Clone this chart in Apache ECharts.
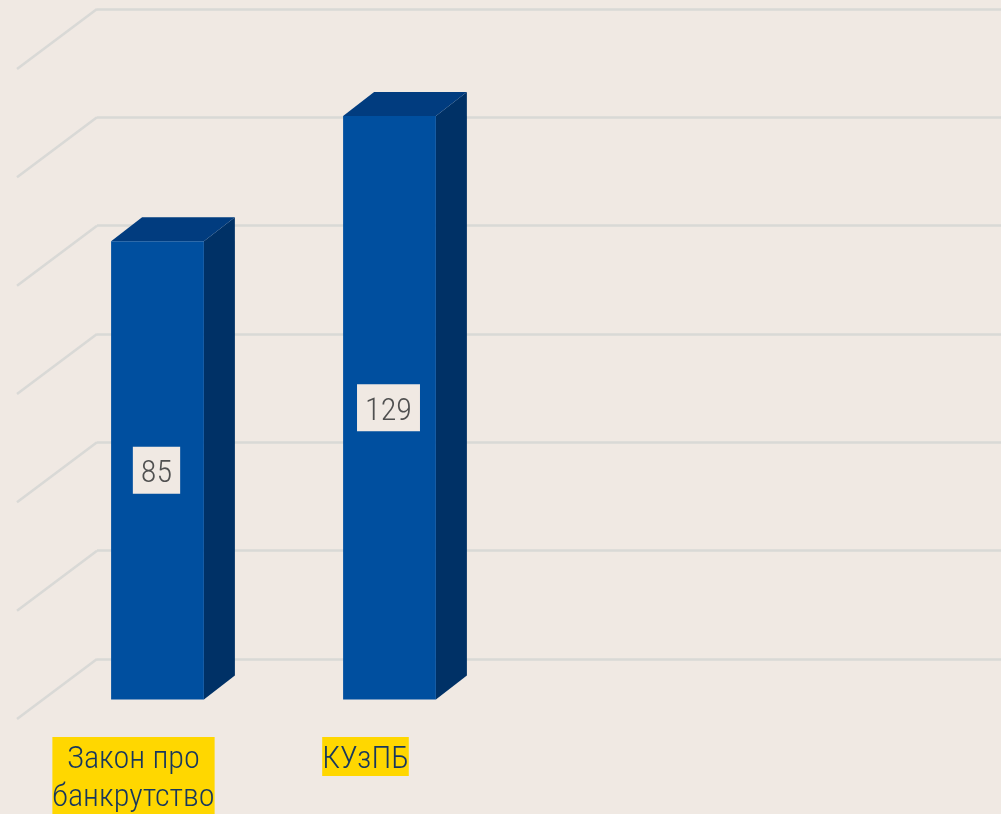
<!DOCTYPE html>
<html><head><meta charset="utf-8">
<style>html,body{margin:0;padding:0;background:#f0e9e3;overflow:hidden}#c{width:1001px;height:814px}</style>
<script src="https://cdn.jsdelivr.net/npm/echarts@6/dist/echarts.min.js"></script>
</head><body><div id="c"></div>
<script>
const categories = ['Закон про\nбанкрутство', 'КУзПБ'];
const values = [85, 129];
const gridTicks = [-76, -38, 0, 38, 76, 114, 152];
const axisMin = -76, axisMax = 152, axisStep = 38;
const FONT = '"Roboto Condensed", Roboto, sans-serif';
const chart = echarts.init(document.getElementById('c'), null, {renderer:'canvas'});
function renderBar(params, api){
  const idx = api.value(0), val = api.value(1);
  const top = api.coord([idx, val]), base = api.coord([idx, axisMin]);
  const w = api.size([1,0])[0] * 0.4, ox = 24, oy = -17.5, dx = 31, dy = -24;
  const l = top[0]+ox-w/2, r = l+w, t = top[1]+oy, b = base[1]+oy;
  return {type:'group', children:[
    {type:'polygon', shape:{points:[[r,t],[r+dx,t+dy],[r+dx,b+dy],[r,b]]}, style:{fill:'#003166'}},
    {type:'polygon', shape:{points:[[l,t],[l+dx,t+dy],[r+dx,t+dy],[r,t]]}, style:{fill:'#013c7f'}},
    {type:'rect', shape:{x:l,y:t,width:w,height:b-t}, style:{fill:'#004f9f'}},
    {type:'text', style:{text:String(val), x:(l+r)/2-1, y:(t+b)/2-23.5, align:'center', verticalAlign:'top',
      fontFamily:FONT, fontWeight:300, fontSize:32.2, lineHeight:33, fill:'#505050', backgroundColor:'#f0e9e3',
      padding:[11,8,3,8]}}
  ]};
}
function renderWall(params, api){
  const p = api.coord([0, api.value(0)]);
  return {type:'line', shape:{x1:p[0],y1:p[1],x2:p[0]-80,y2:p[1]+60},
    style:{stroke:'#d9d9d6', lineWidth:2.5, fill:null}};
}
chart.setOption({
  animation:false,
  backgroundColor:'#f0e9e3',
  grid:[
    {left:97, right:0, top:9, height:650},
    {left:17.5, width:464, top:68, height:650}
  ],
  xAxis:[
    {gridIndex:0, type:'value', min:0, max:1, show:false},
    {gridIndex:1, type:'category', data:categories,
     axisLine:{show:false}, axisTick:{show:false}, splitLine:{show:false},
     axisLabel:{interval:0, margin:20, fontFamily:FONT, fontWeight:300, fontSize:32.2, lineHeight:38,
       color:'#17375e', backgroundColor:'#ffd700', verticalAlign:'top', padding:[4,0,-3,0]}}
  ],
  yAxis:[
    {gridIndex:0, type:'value', min:axisMin, max:axisMax, interval:axisStep,
     axisLine:{show:false}, axisTick:{show:false}, axisLabel:{show:false},
     splitLine:{show:true, lineStyle:{color:'#d9d9d6', width:2.5}}},
    {gridIndex:1, type:'value', min:axisMin, max:axisMax, interval:axisStep, show:false, splitLine:{show:false}}
  ],
  series:[
    {type:'custom', xAxisIndex:0, yAxisIndex:0, z:1, silent:true, clip:false,
     encode:{y:0}, data:gridTicks.map(v=>[v]), renderItem:renderWall},
    {type:'custom', xAxisIndex:1, yAxisIndex:1, z:3, silent:true, clip:false,
     encode:{x:0,y:1}, data:values.map((v,i)=>[i,v]), renderItem:renderBar}
  ]
});
</script></body></html>
